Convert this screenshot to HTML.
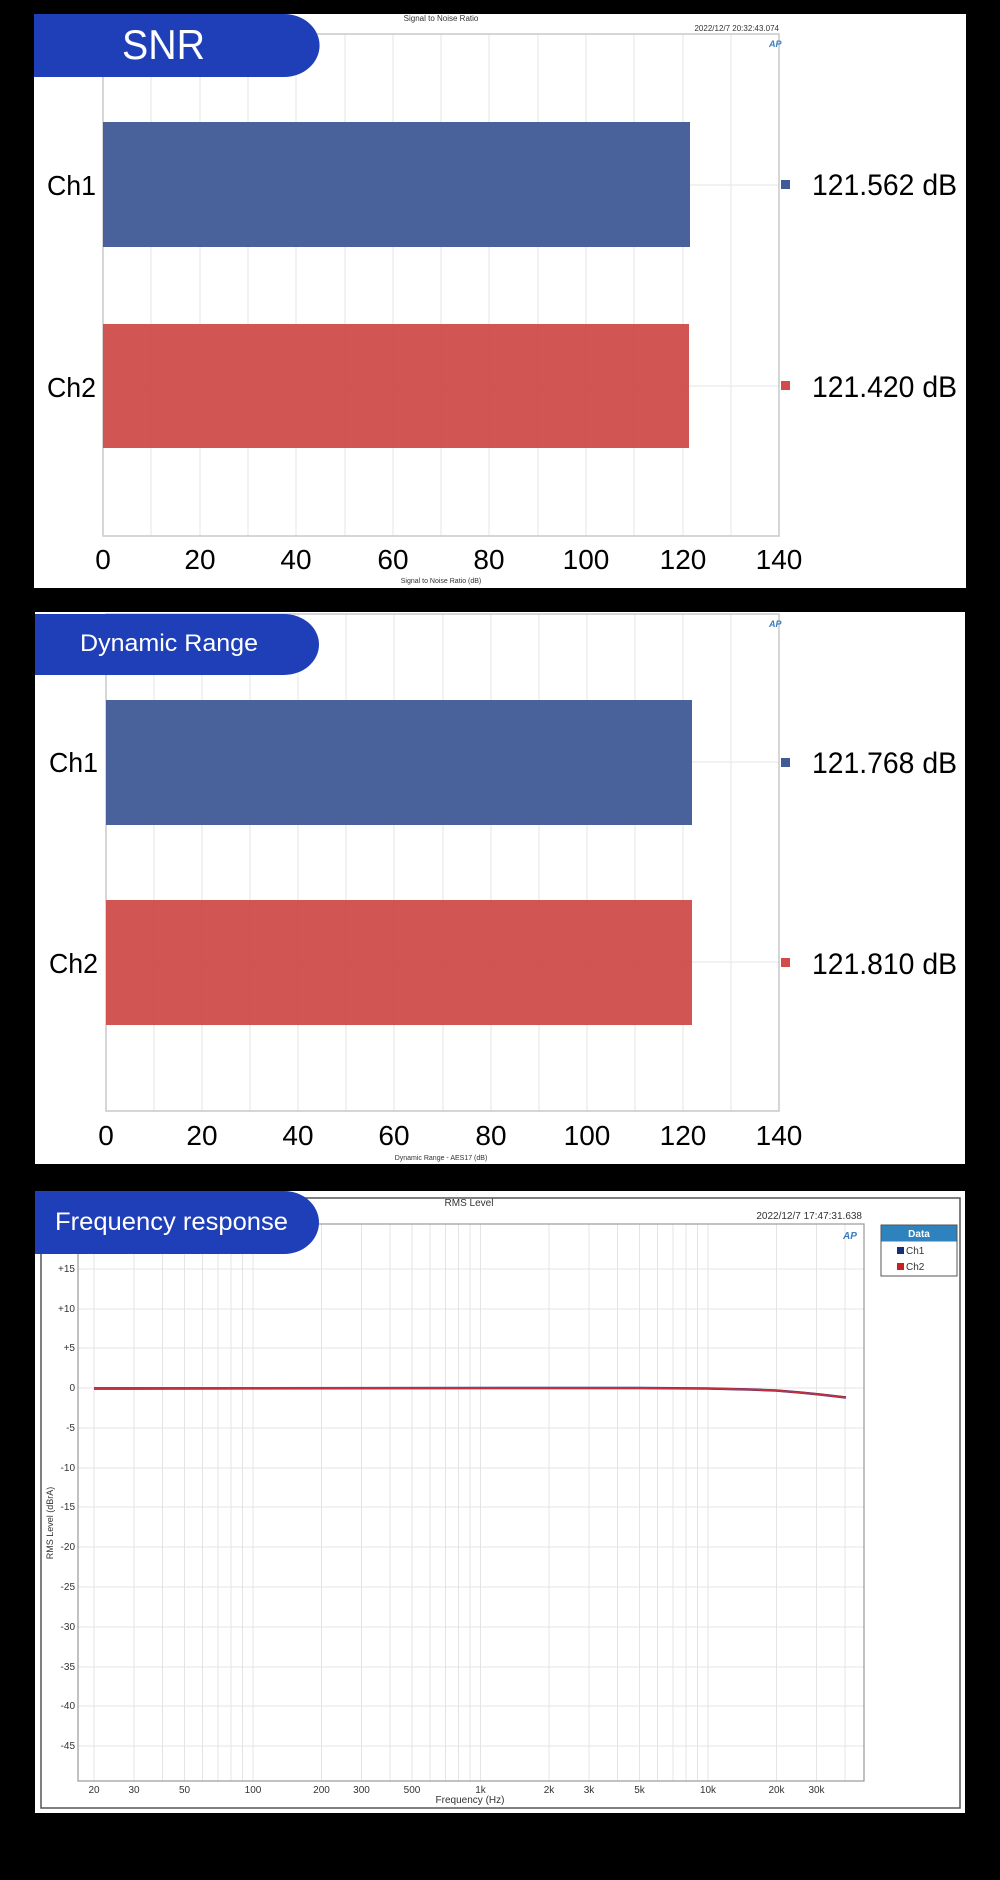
<!DOCTYPE html>
<html><head><meta charset="utf-8"><style>
html,body{margin:0;padding:0;background:#000;width:1000px;height:1880px;overflow:hidden}
svg{display:block}
text{font-family:"Liberation Sans",sans-serif}
</style></head><body>
<svg width="1000" height="1880" viewBox="0 0 1000 1880" xmlns="http://www.w3.org/2000/svg">
<rect width="1000" height="1880" fill="#000"/>

<!-- ===== Panel 1 SNR ===== -->
<rect x="34" y="14" width="932" height="574" fill="#fff"/>
<g stroke="#e6e6e6" stroke-width="1">
<line x1="151" y1="34" x2="151" y2="536"/><line x1="200" y1="34" x2="200" y2="536"/><line x1="248" y1="34" x2="248" y2="536"/><line x1="296" y1="34" x2="296" y2="536"/><line x1="345" y1="34" x2="345" y2="536"/><line x1="393" y1="34" x2="393" y2="536"/><line x1="441" y1="34" x2="441" y2="536"/><line x1="489" y1="34" x2="489" y2="536"/><line x1="538" y1="34" x2="538" y2="536"/><line x1="586" y1="34" x2="586" y2="536"/><line x1="634" y1="34" x2="634" y2="536"/><line x1="683" y1="34" x2="683" y2="536"/><line x1="731" y1="34" x2="731" y2="536"/>
<line x1="103" y1="185" x2="779" y2="185"/><line x1="103" y1="386" x2="779" y2="386"/>
</g>
<rect x="103" y="34" width="676" height="502" fill="none" stroke="#c8c8c8" stroke-width="1.5"/>
<rect x="103" y="122" width="587" height="125" fill="#3f5a96" opacity="0.95"/>
<rect x="103" y="324" width="586" height="124" fill="#cf4c4a" opacity="0.95"/>
<text x="441" y="21" font-size="8" text-anchor="middle" fill="#333" font-family="Liberation Serif,serif">Signal to Noise Ratio</text>
<text x="779" y="31" font-size="8" text-anchor="end" fill="#333">2022/12/7 20:32:43.074</text>
<text x="769" y="47" font-size="9" fill="#3b7cc0" font-style="italic" font-weight="bold">AP</text>
<path d="M34 14 H284 A35 31 0 0 1 284 77 H34 Z" fill="#1f3fb8"/>
<text x="122" y="59" font-size="42" fill="#fff" textLength="83" lengthAdjust="spacingAndGlyphs">SNR</text>
<text x="47" y="195" font-size="28" fill="#000" textLength="49" lengthAdjust="spacingAndGlyphs">Ch1</text>
<text x="47" y="397" font-size="28" fill="#000" textLength="49" lengthAdjust="spacingAndGlyphs">Ch2</text>
<rect x="781" y="180" width="9" height="9" fill="#3f5a96"/>
<rect x="781" y="381" width="9" height="9" fill="#cf4c4a"/>
<text x="812" y="195" font-size="30" fill="#000" textLength="145" lengthAdjust="spacingAndGlyphs">121.562 dB</text>
<text x="812" y="397" font-size="30" fill="#000" textLength="145" lengthAdjust="spacingAndGlyphs">121.420 dB</text>
<g font-size="28" fill="#000" text-anchor="middle">
<text x="103" y="569">0</text><text x="200" y="569">20</text><text x="296" y="569">40</text><text x="393" y="569">60</text><text x="489" y="569">80</text><text x="586" y="569">100</text><text x="683" y="569">120</text><text x="779" y="569">140</text>
</g>
<text x="441" y="583" font-size="7" text-anchor="middle" fill="#333">Signal to Noise Ratio (dB)</text>

<!-- ===== Panel 2 Dynamic Range ===== -->
<rect x="35" y="612" width="930" height="552" fill="#fff"/>
<g stroke="#e6e6e6" stroke-width="1">
<line x1="154" y1="614" x2="154" y2="1111"/><line x1="202" y1="614" x2="202" y2="1111"/><line x1="250" y1="614" x2="250" y2="1111"/><line x1="298" y1="614" x2="298" y2="1111"/><line x1="346" y1="614" x2="346" y2="1111"/><line x1="394" y1="614" x2="394" y2="1111"/><line x1="443" y1="614" x2="443" y2="1111"/><line x1="491" y1="614" x2="491" y2="1111"/><line x1="539" y1="614" x2="539" y2="1111"/><line x1="587" y1="614" x2="587" y2="1111"/><line x1="635" y1="614" x2="635" y2="1111"/><line x1="683" y1="614" x2="683" y2="1111"/><line x1="731" y1="614" x2="731" y2="1111"/>
<line x1="106" y1="762" x2="779" y2="762"/><line x1="106" y1="962" x2="779" y2="962"/>
</g>
<rect x="106" y="614" width="673" height="497" fill="none" stroke="#c8c8c8" stroke-width="1.5"/>
<rect x="106" y="700" width="586" height="125" fill="#3f5a96" opacity="0.95"/>
<rect x="106" y="900" width="586" height="125" fill="#cf4c4a" opacity="0.95"/>
<text x="769" y="627" font-size="9" fill="#3b7cc0" font-style="italic" font-weight="bold">AP</text>
<path d="M35 614 H284 A35 30.5 0 0 1 284 675 H35 Z" fill="#1f3fb8"/>
<text x="80" y="651" font-size="24" fill="#fff" textLength="178" lengthAdjust="spacingAndGlyphs">Dynamic Range</text>
<text x="49" y="772" font-size="28" fill="#000" textLength="49" lengthAdjust="spacingAndGlyphs">Ch1</text>
<text x="49" y="973" font-size="28" fill="#000" textLength="49" lengthAdjust="spacingAndGlyphs">Ch2</text>
<rect x="781" y="758" width="9" height="9" fill="#3f5a96"/>
<rect x="781" y="958" width="9" height="9" fill="#cf4c4a"/>
<text x="812" y="773" font-size="30" fill="#000" textLength="145" lengthAdjust="spacingAndGlyphs">121.768 dB</text>
<text x="812" y="974" font-size="30" fill="#000" textLength="145" lengthAdjust="spacingAndGlyphs">121.810 dB</text>
<g font-size="28" fill="#000" text-anchor="middle">
<text x="106" y="1145">0</text><text x="202" y="1145">20</text><text x="298" y="1145">40</text><text x="394" y="1145">60</text><text x="491" y="1145">80</text><text x="587" y="1145">100</text><text x="683" y="1145">120</text><text x="779" y="1145">140</text>
</g>
<text x="441" y="1160" font-size="7" text-anchor="middle" fill="#333">Dynamic Range - AES17 (dB)</text>

<!-- ===== Panel 3 Frequency response ===== -->
<rect x="35" y="1191" width="930" height="622" fill="#fff"/>
<rect x="41" y="1198" width="919" height="610" fill="none" stroke="#555" stroke-width="1.5"/>
<g stroke="#e4e4e4" stroke-width="1">
<line x1="94" y1="1224" x2="94" y2="1781"/><line x1="134" y1="1224" x2="134" y2="1781"/><line x1="162.5" y1="1224" x2="162.5" y2="1781"/><line x1="184.5" y1="1224" x2="184.5" y2="1781"/><line x1="202.5" y1="1224" x2="202.5" y2="1781"/><line x1="218" y1="1224" x2="218" y2="1781"/><line x1="231" y1="1224" x2="231" y2="1781"/><line x1="242.5" y1="1224" x2="242.5" y2="1781"/><line x1="253" y1="1224" x2="253" y2="1781"/>
<line x1="321.5" y1="1224" x2="321.5" y2="1781"/><line x1="361.5" y1="1224" x2="361.5" y2="1781"/><line x1="390" y1="1224" x2="390" y2="1781"/><line x1="412" y1="1224" x2="412" y2="1781"/><line x1="430" y1="1224" x2="430" y2="1781"/><line x1="445.5" y1="1224" x2="445.5" y2="1781"/><line x1="458.5" y1="1224" x2="458.5" y2="1781"/><line x1="470" y1="1224" x2="470" y2="1781"/><line x1="480.5" y1="1224" x2="480.5" y2="1781"/>
<line x1="549" y1="1224" x2="549" y2="1781"/><line x1="589" y1="1224" x2="589" y2="1781"/><line x1="617.5" y1="1224" x2="617.5" y2="1781"/><line x1="639.5" y1="1224" x2="639.5" y2="1781"/><line x1="657.5" y1="1224" x2="657.5" y2="1781"/><line x1="673" y1="1224" x2="673" y2="1781"/><line x1="686" y1="1224" x2="686" y2="1781"/><line x1="697.5" y1="1224" x2="697.5" y2="1781"/><line x1="708" y1="1224" x2="708" y2="1781"/>
<line x1="776.5" y1="1224" x2="776.5" y2="1781"/><line x1="816.5" y1="1224" x2="816.5" y2="1781"/><line x1="845" y1="1224" x2="845" y2="1781"/>
<line x1="78" y1="1269" x2="864" y2="1269"/><line x1="78" y1="1309" x2="864" y2="1309"/><line x1="78" y1="1348" x2="864" y2="1348"/><line x1="78" y1="1388" x2="864" y2="1388"/><line x1="78" y1="1428" x2="864" y2="1428"/><line x1="78" y1="1468" x2="864" y2="1468"/><line x1="78" y1="1507" x2="864" y2="1507"/><line x1="78" y1="1547" x2="864" y2="1547"/><line x1="78" y1="1587" x2="864" y2="1587"/><line x1="78" y1="1627" x2="864" y2="1627"/><line x1="78" y1="1667" x2="864" y2="1667"/><line x1="78" y1="1706" x2="864" y2="1706"/><line x1="78" y1="1746" x2="864" y2="1746"/>
</g>
<rect x="78" y="1224" width="786" height="557" fill="none" stroke="#999" stroke-width="1.2"/>
<path d="M94 1388.5 L500 1388 L640 1388 L708 1388.5 L750 1389.5 L776 1390.5 L800 1392.5 L820 1394.5 L846 1397.5" fill="none" stroke="#1a2f7a" stroke-width="2.5"/>
<path d="M94 1388 L500 1388 L640 1388 L708 1388.5 L750 1389.5 L776 1390.5 L800 1392.5 L820 1394.5 L846 1397.5" fill="none" stroke="#c23040" stroke-width="2"/>
<g font-size="10" fill="#333" text-anchor="end">
<text x="75" y="1272">+15</text><text x="75" y="1312">+10</text><text x="75" y="1351">+5</text><text x="75" y="1391">0</text><text x="75" y="1431">-5</text><text x="75" y="1471">-10</text><text x="75" y="1510">-15</text><text x="75" y="1550">-20</text><text x="75" y="1590">-25</text><text x="75" y="1630">-30</text><text x="75" y="1670">-35</text><text x="75" y="1709">-40</text><text x="75" y="1749">-45</text>
</g>
<g font-size="10" fill="#333" text-anchor="middle">
<text x="94" y="1793">20</text><text x="134" y="1793">30</text><text x="184.5" y="1793">50</text><text x="253" y="1793">100</text><text x="321.5" y="1793">200</text><text x="361.5" y="1793">300</text><text x="412" y="1793">500</text><text x="480.5" y="1793">1k</text><text x="549" y="1793">2k</text><text x="589" y="1793">3k</text><text x="639.5" y="1793">5k</text><text x="708" y="1793">10k</text><text x="776.5" y="1793">20k</text><text x="816.5" y="1793">30k</text>
</g>
<text x="470" y="1803" font-size="10" text-anchor="middle" fill="#333">Frequency (Hz)</text>
<text transform="translate(53,1523) rotate(-90)" font-size="9" text-anchor="middle" fill="#333">RMS Level (dBrA)</text>
<text x="469" y="1206" font-size="10" text-anchor="middle" fill="#333" font-family="Liberation Serif,serif">RMS Level</text>
<text x="862" y="1219" font-size="10" text-anchor="end" fill="#333">2022/12/7 17:47:31.638</text>
<text x="843" y="1239" font-size="10" fill="#3b7cc0" font-style="italic" font-weight="bold">AP</text>
<rect x="881" y="1225" width="76" height="51" fill="#fff" stroke="#555" stroke-width="1"/>
<rect x="881.5" y="1225.5" width="75" height="16" fill="#2e83bf"/>
<text x="919" y="1237" font-size="10" font-weight="bold" text-anchor="middle" fill="#fff">Data</text>
<rect x="897" y="1247" width="7" height="7" fill="#142f7a"/>
<text x="906" y="1254" font-size="10" fill="#333">Ch1</text>
<rect x="897" y="1263" width="7" height="7" fill="#c62020"/>
<text x="906" y="1270" font-size="10" fill="#333">Ch2</text>
<path d="M35 1191 H284 A35 31.5 0 0 1 284 1254 H35 Z" fill="#1f3fb8"/>
<text x="55" y="1230" font-size="25" fill="#fff" textLength="233" lengthAdjust="spacingAndGlyphs">Frequency response</text>
</svg>
</body></html>
